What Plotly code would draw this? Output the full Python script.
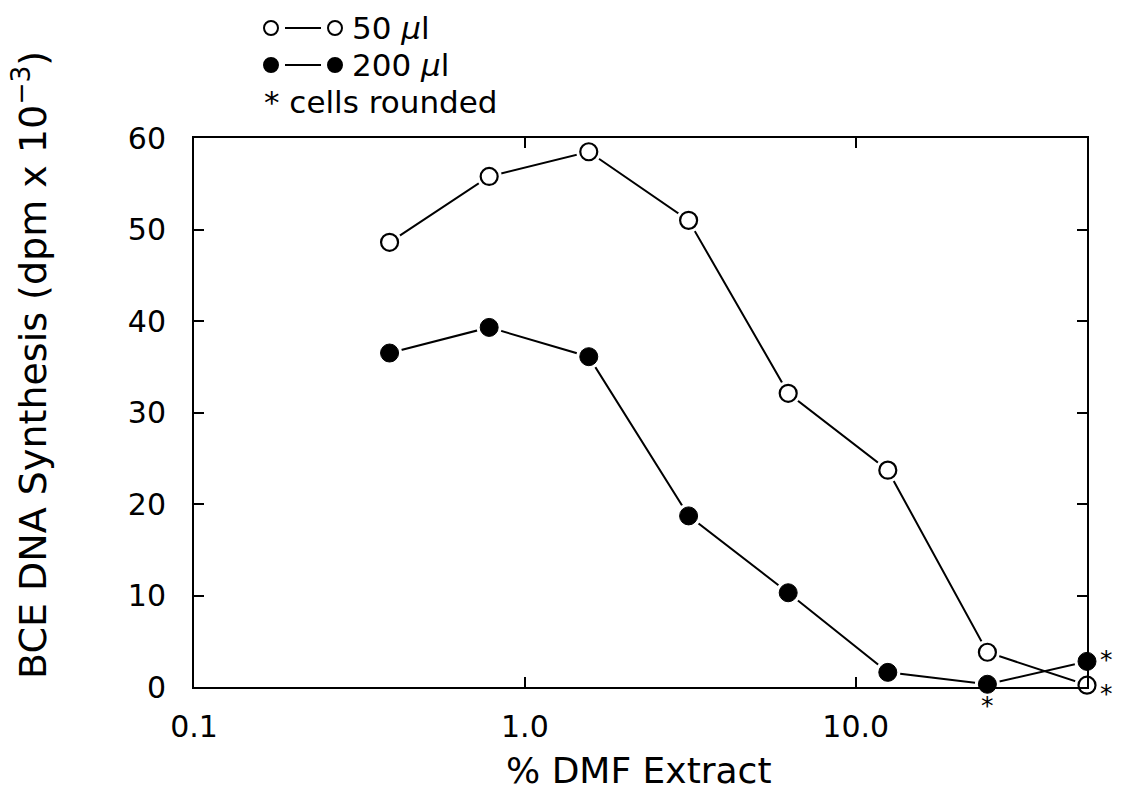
import numpy as np
import plotly.graph_objects as go

# Data
dmf_pct = [0.39, 0.78, 1.56, 3.125, 6.25, 12.5, 25, 50]
synth_50ul = [48.6, 55.8, 58.5, 51.0, 32.1, 23.7, 3.8, 0.2]
synth_200ul = [36.5, 39.3, 36.1, 18.7, 10.3, 1.6, 0.3, 2.8]
x_ticks = [0.1, 1.0, 10.0]
x_tick_labels = ["0.1", "1.0", "10.0"]
y_ticks = [0, 10, 20, 30, 40, 50, 60]

FONT = "DejaVu Sans"
L, R, T, B = 194, 1087, 138, 687
W, H = 1123, 800


def px_x(p):
    return (p - L) / (R - L)


def px_y(p):
    return (B - p) / (B - T)


fig = go.Figure()

# connecting lines
for ys in (synth_50ul, synth_200ul):
    fig.add_trace(go.Scatter(x=dmf_pct, y=ys, mode="lines",
                             line=dict(color="black", width=2),
                             showlegend=False, hoverinfo="skip", cliponaxis=False))
# white gaps around markers
for ys in (synth_50ul, synth_200ul):
    fig.add_trace(go.Scatter(x=dmf_pct, y=ys, mode="markers",
                             marker=dict(size=25, color="white", line=dict(width=0)),
                             showlegend=False, hoverinfo="skip", cliponaxis=False))
# markers
fig.add_trace(go.Scatter(x=dmf_pct, y=synth_50ul, mode="markers", name="50 µl",
                         marker=dict(size=17, color="white", line=dict(color="black", width=2.2)),
                         showlegend=False, cliponaxis=False))
fig.add_trace(go.Scatter(x=dmf_pct, y=synth_200ul, mode="markers", name="200 µl",
                         marker=dict(size=18, color="black", line=dict(color="black", width=1)),
                         showlegend=False, cliponaxis=False))

# "cells rounded" asterisks
ast = [
    (dmf_pct[-1], synth_200ul[-1], 19, 2),
    (dmf_pct[-1], synth_50ul[-1], 19, -8),
    (dmf_pct[-2], synth_200ul[-2], 0, -21),
]
for xv, yv, xs, ys in ast:
    fig.add_annotation(x=np.log10(xv), y=yv, xref="x", yref="y", text="*",
                       showarrow=False, xshift=xs, yshift=ys,
                       font=dict(family=FONT, size=25, color="black"))

# legend drawn manually
shapes = []
for row_y, fill in ((28, "white"), (65, "black")):
    yy = px_y(row_y)
    for cx in (271, 335):
        shapes.append(dict(type="circle", xref="paper", yref="paper",
                           xsizemode="pixel", ysizemode="pixel",
                           xanchor=px_x(cx), yanchor=yy,
                           x0=-7, x1=7, y0=-7, y1=7,
                           fillcolor=fill, line=dict(color="black", width=2)))
    shapes.append(dict(type="line", xref="paper", yref="paper",
                       x0=px_x(285), x1=px_x(321), y0=yy, y1=yy,
                       line=dict(color="black", width=2)))
fig.update_layout(shapes=shapes)

for row_y, txt, xl in ((28, "50 <i>µ</i>l", 350), (65, "200 <i>µ</i>l", 350), (102, "* cells rounded", 262)):
    fig.add_annotation(x=px_x(xl), y=px_y(row_y), xref="paper", yref="paper",
                       text=txt, showarrow=False, xanchor="left", yanchor="middle",
                       font=dict(family=FONT, size=31, color="black"))

# axis titles
fig.add_annotation(x=px_x(639), y=px_y(770), xref="paper", yref="paper",
                   text="% DMF Extract", showarrow=False, xanchor="center", yanchor="middle",
                   font=dict(family=FONT, size=36, color="black"))
fig.add_annotation(x=px_x(30), y=px_y(365), xref="paper", yref="paper",
                   text="BCE DNA Synthesis (dpm x 10<sup>−3</sup>)", textangle=-90,
                   showarrow=False, xanchor="center", yanchor="middle",
                   font=dict(family=FONT, size=38, color="black"))

fig.update_xaxes(type="log", range=[-1, np.log10(50)],
                 tickvals=x_ticks, ticktext=x_tick_labels,
                 ticks="inside", ticklen=10, tickwidth=2, tickcolor="black",
                 showline=True, linecolor="black", linewidth=2, mirror="ticks",
                 showgrid=False, zeroline=False, ticklabelstandoff=12,
                 tickfont=dict(family=FONT, size=30, color="black"))
fig.update_yaxes(range=[0, 60], tickvals=y_ticks,
                 ticks="inside", ticklen=10, tickwidth=2, tickcolor="black",
                 showline=True, linecolor="black", linewidth=2, mirror="ticks",
                 showgrid=False, zeroline=False, ticklabelstandoff=20,
                 tickfont=dict(family=FONT, size=30, color="black"))

fig.update_layout(width=W, height=H,
                  margin=dict(l=L, r=W - R, t=T, b=H - B),
                  plot_bgcolor="white", paper_bgcolor="white",
                  showlegend=False)

fig.write_html("out.html")
